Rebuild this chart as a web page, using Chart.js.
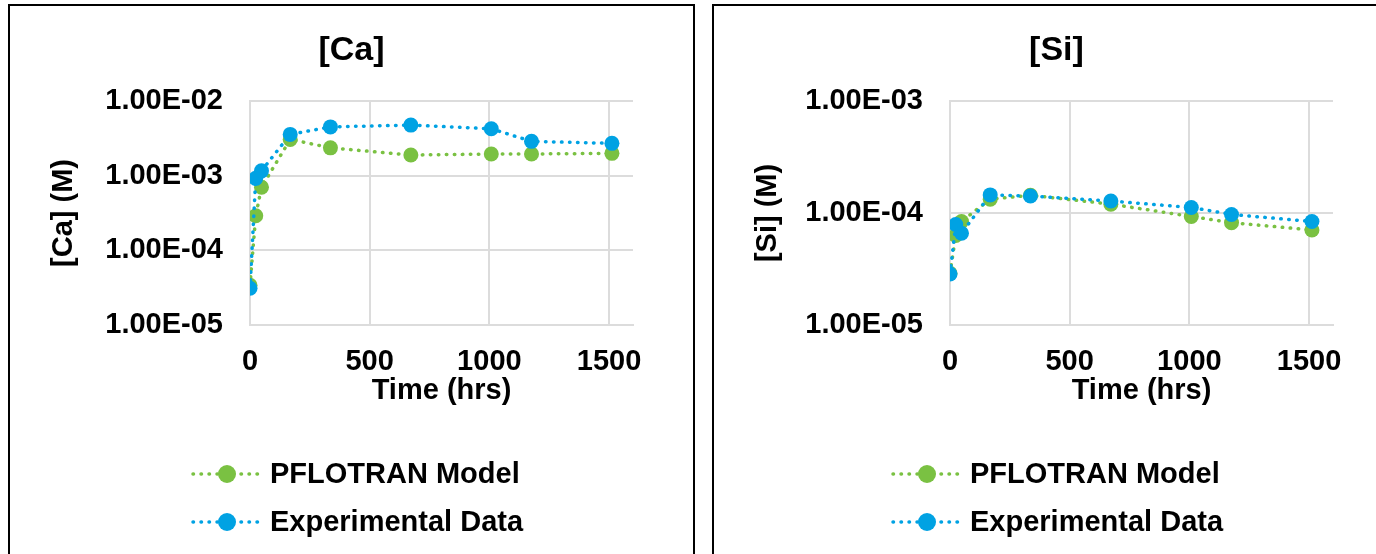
<!DOCTYPE html>
<html>
<head>
<meta charset="utf-8">
<script src="https://cdn.jsdelivr.net/npm/chart.js@4/dist/chart.umd.min.js"></script>
<style>
    html, body { margin: 0; padding: 0; background: #fff; }
    body { width: 1376px; height: 554px; overflow: hidden; position: relative; }
    .panel { position: absolute; top: 4px; height: 560px; border: 2px solid #000; border-bottom: none; background: #fff; }
    #panelCa { left: 8px; width: 683px; }
    #panelSi { left: 712px; width: 685px; border-right: none; }
    canvas { display: block; }
</style>
</head>
<body>
<div class="panel" id="panelCa"><canvas id="chartCa" width="683" height="548"></canvas></div>
<div class="panel" id="panelSi"><canvas id="chartSi" width="685" height="548"></canvas></div>

<script>
/* ------------------------------------------------------------
   1. Données
------------------------------------------------------------ */
const times = [0, 24, 48, 168, 336, 672, 1008, 1176, 1512];

const caModel = [3.4e-5, 2.9e-4, 7.0e-4, 3.06e-3, 2.36e-3, 1.89e-3, 1.95e-3, 1.95e-3, 1.99e-3];
const caExp   = [3.1e-5, 9.2e-4, 1.16e-3, 3.57e-3, 4.5e-3, 4.76e-3, 4.25e-3, 2.88e-3, 2.71e-3];

const siModel = [2.9e-5, 6.3e-5, 8.4e-5, 1.33e-4, 1.44e-4, 1.2e-4, 9.3e-5, 8.2e-5, 7.05e-5];
const siExp   = [2.85e-5, 7.9e-5, 6.6e-5, 1.45e-4, 1.42e-4, 1.28e-4, 1.12e-4, 9.7e-5, 8.4e-5];

const seriesLabels = ["PFLOTRAN Model", "Experimental Data"];
const xTicks = [0, 500, 1000, 1500];
const caTicks = [1e-5, 1e-4, 1e-3, 1e-2];
const siTicks = [1e-5, 1e-4, 1e-3];

const GREEN = "#7AC142";
const BLUE = "#00A2E3";
const GRID = "#DCDCDC";
const FONT = "'Liberation Sans', Arial, sans-serif";

/* ------------------------------------------------------------
   2. Utilitaires
------------------------------------------------------------ */
function sciLabel(v) {
    const exp = Math.round(Math.log10(v));
    const mant = v / Math.pow(10, exp);
    const sign = exp < 0 ? "-" : "+";
    const e = String(Math.abs(exp)).padStart(2, "0");
    return mant.toFixed(2) + "E" + sign + e;
}

function toPoints(values) {
    return times.map((t, i) => ({ x: t, y: values[i] }));
}

function makeDataset(label, values, color, order) {
    return {
        label: label,
        data: toPoints(values),
        borderColor: color,
        backgroundColor: color,
        borderWidth: 3.5,
        borderDash: [0.5, 7.5],
        borderCapStyle: "round",
        pointRadius: 7.5,
        pointHoverRadius: 7.5,
        pointBorderWidth: 0,
        pointBackgroundColor: color,
        tension: 0,
        order: order
    };
}

// titre centré sur tout le cadre (pas sur la zone du graphe)
const panelTitle = {
    id: "panelTitle",
    afterDraw(chart, args, opts) {
        const ctx = chart.ctx;
        ctx.save();
        ctx.fillStyle = "#000";
        ctx.font = "bold 34px " + FONT;
        ctx.textAlign = "center";
        ctx.textBaseline = "middle";
        ctx.fillText(opts.text, chart.width / 2, 45);
        ctx.restore();
    }
};

// légende dessinée à la main (ligne pointillée + rond + texte)
const dottedLegend = {
    id: "dottedLegend",
    afterDraw(chart) {
        const ctx = chart.ctx;
        const left = chart.chartArea.left;
        const base = chart.chartArea.bottom;
        chart.data.datasets.forEach((ds, i) => {
            const y = base + 149 + i * 48;
            ctx.save();
            ctx.strokeStyle = ds.borderColor;
            ctx.lineWidth = 3.5;
            ctx.lineCap = "round";
            ctx.setLineDash([0.5, 7.5]);
            ctx.beginPath();
            ctx.moveTo(left - 57, y);
            ctx.lineTo(left + 11, y);
            ctx.stroke();
            ctx.setLineDash([]);
            ctx.fillStyle = ds.borderColor;
            ctx.beginPath();
            ctx.arc(left - 23, y, 9, 0, Math.PI * 2);
            ctx.fill();
            ctx.fillStyle = "#000";
            ctx.font = "bold 29px " + FONT;
            ctx.textBaseline = "middle";
            ctx.textAlign = "left";
            ctx.fillText(ds.label, left + 20, y + 1);
            ctx.restore();
        });
    }
};

/* ------------------------------------------------------------
   3. Création d'un graphique
------------------------------------------------------------ */
function buildChart(canvasId, title, yTitle, model, exp, yTicks, padRight, yWidth) {
    const ctx = document.getElementById(canvasId);
    const axisFont = { family: FONT, size: 29, weight: "bold", lineHeight: 1.2 };
    return new Chart(ctx, {
        type: "line",
        data: {
            datasets: [
                makeDataset(seriesLabels[0], model, GREEN, 1),
                makeDataset(seriesLabels[1], exp, BLUE, 0)
            ]
        },
        options: {
            responsive: false,
            animation: false,
            layout: { padding: { left: 0, right: padRight, top: 95, bottom: 146 } },
            plugins: {
                legend: { display: false },
                tooltip: { enabled: false },
                title: { display: false },
                panelTitle: { text: title }
            },
            scales: {
                x: {
                    type: "linear",
                    min: 0,
                    max: 1600,
                    afterBuildTicks: scale => { scale.ticks = xTicks.map(v => ({ value: v })); },
                    afterFit: scale => { scale.height = 83; },
                    grid: { color: GRID, lineWidth: 2, drawTicks: false },
                    border: { color: GRID, width: 2 },
                    ticks: {
                        color: "#000",
                        padding: 19.5,
                        maxRotation: 0,
                        callback: v => String(v),
                        font: axisFont
                    },
                    title: {
                        display: true,
                        text: "Time (hrs)",
                        color: "#000",
                        padding: { top: 0, bottom: 0 },
                        font: axisFont
                    }
                },
                y: {
                    type: "logarithmic",
                    min: yTicks[0],
                    max: yTicks[yTicks.length - 1],
                    afterBuildTicks: scale => { scale.ticks = yTicks.map(v => ({ value: v })); },
                    afterFit: scale => { scale.width = yWidth; },
                    grid: { color: GRID, lineWidth: 2, drawTicks: false },
                    border: { color: GRID, width: 2 },
                    ticks: {
                        color: "#000",
                        padding: 27,
                        callback: v => sciLabel(v),
                        font: axisFont
                    },
                    title: {
                        display: true,
                        text: yTitle,
                        color: "#000",
                        padding: { top: 37, bottom: 0 },
                        font: axisFont
                    }
                }
            }
        },
        plugins: [panelTitle, dottedLegend]
    });
}

/* ------------------------------------------------------------
   4. Lancement
------------------------------------------------------------ */
buildChart("chartCa", "[Ca]", "[Ca] (M)", caModel, caExp, caTicks, 60, 240);
buildChart("chartSi", "[Si]", "[Si] (M)", siModel, siExp, siTicks, 66, 236);
</script>
</body>
</html>
